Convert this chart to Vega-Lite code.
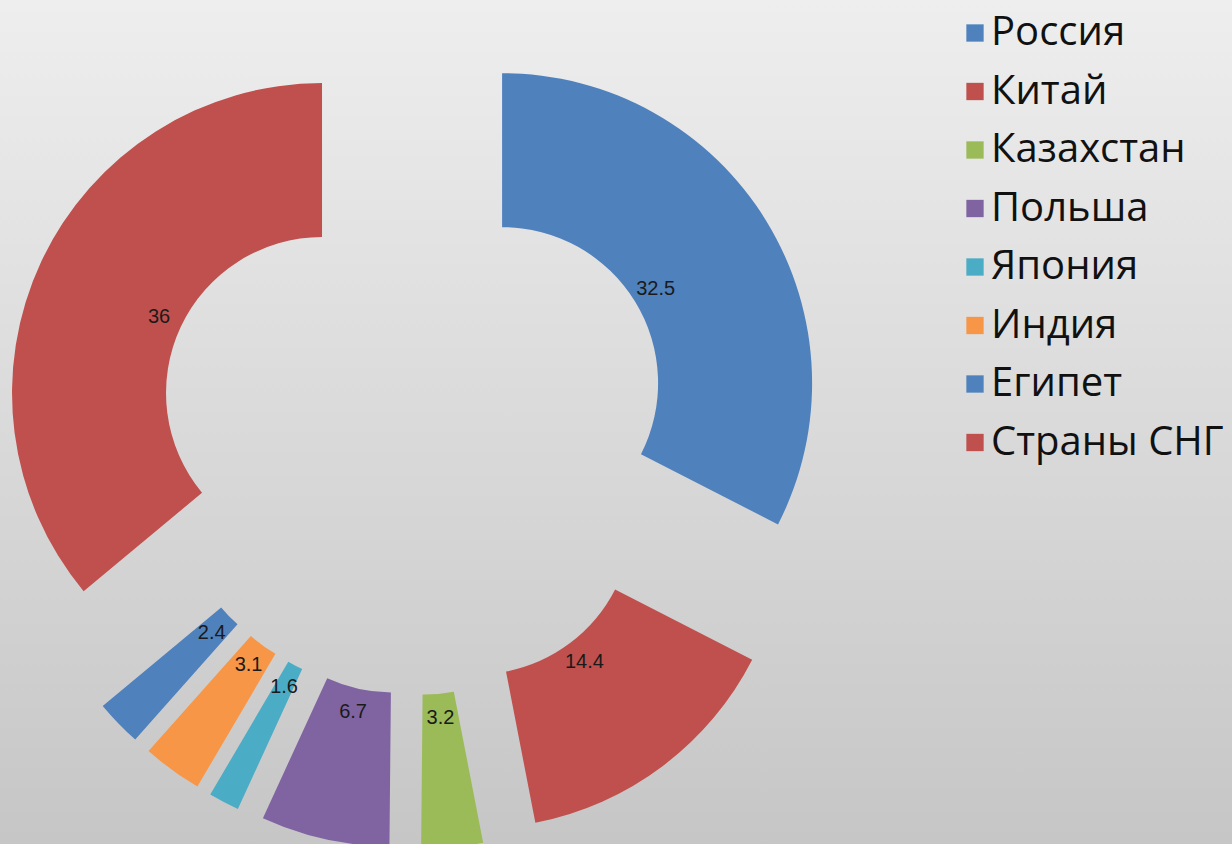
{
  "$schema": "https://vega.github.io/schema/vega-lite/v6.json",
  "width": 1232,
  "height": 844,
  "padding": 0,
  "autosize": {"type": "none"},
  "background": "#dcdcdc",
  "config": {
    "view": {
      "stroke": null,
      "fill": {"gradient": "linear", "x1": 0, "y1": 0, "x2": 0, "y2": 1,
        "stops": [{"offset": 0, "color": "#eeeeee"}, {"offset": 1, "color": "#c6c6c6"}]}
    }
  },
  "data": {
    "values": [
      {"country": "Россия", "value": 32.5, "order": 1},
      {"country": "Китай", "value": 14.4, "order": 2},
      {"country": "Казахстан", "value": 3.2, "order": 3},
      {"country": "Польша", "value": 6.7, "order": 4},
      {"country": "Япония", "value": 1.6, "order": 5},
      {"country": "Индия", "value": 3.1, "order": 6},
      {"country": "Египет", "value": 2.4, "order": 7},
      {"country": "Страны СНГ", "value": 36, "order": 8}
    ]
  },
  "transform": [
    {"window": [{"op": "sum", "field": "value", "as": "cum"}], "sort": [{"field": "order"}], "frame": [null, 0]},
    {"joinaggregate": [{"op": "sum", "field": "value", "as": "total"}]},
    {"calculate": "(datum.cum - datum.value) / datum.total", "as": "start"},
    {"calculate": "datum.cum / datum.total", "as": "end"},
    {"calculate": "(datum.start + datum.end) / 2", "as": "mid"},
    {"calculate": "sin(2 * PI * datum.mid)", "as": "dx"},
    {"calculate": "cos(2 * PI * datum.mid)", "as": "dy"}
  ],
  "encoding": {
    "x": {"field": "dx", "type": "quantitative", "axis": null,
      "scale": {"domain": [-4.05, 7.981], "nice": false, "zero": false}},
    "y": {"field": "dy", "type": "quantitative", "axis": null,
      "scale": {"domain": [-3.979, 4.263], "nice": false, "zero": false}}
  },
  "layer": [
    {
      "mark": {"type": "arc", "innerRadius": 156, "outerRadius": 310},
      "encoding": {
        "theta": {"field": "start", "type": "quantitative", "scale": {"domain": [0, 1], "range": [0, 6.283185307]}},
        "theta2": {"field": "end"},
        "color": {
          "field": "country", "type": "nominal",
          "scale": {
            "domain": ["Россия", "Китай", "Казахстан", "Польша", "Япония", "Индия", "Египет", "Страны СНГ"],
            "range": ["#4F81BD", "#C0504D", "#9BBB59", "#8064A2", "#4BACC6", "#F79646", "#4F81BD", "#C0504D"]
          },
          "legend": {
            "title": null, "orient": "none", "legendX": 955, "legendY": 13, "padding": 0,
            "symbolType": "square", "symbolSize": 300, "symbolStrokeWidth": 0, "symbolOpacity": 1,
            "labelFont": "Open Sans", "labelFontSize": 40, "labelColor": "#111111",
            "labelOffset": -4, "rowPadding": 18.5, "labelLimit": 400
          }
        }
      }
    },
    {
      "mark": {"type": "text", "radius": 180, "font": "Liberation Sans", "fontSize": 20, "color": "#1a1a1a", "align": "center", "baseline": "middle"},
      "encoding": {
        "theta": {"field": "mid", "type": "quantitative", "stack": null, "scale": {"domain": [0, 1], "range": [0, 6.283185307]}},
        "text": {"field": "value", "type": "quantitative"}
      }
    }
  ]
}
